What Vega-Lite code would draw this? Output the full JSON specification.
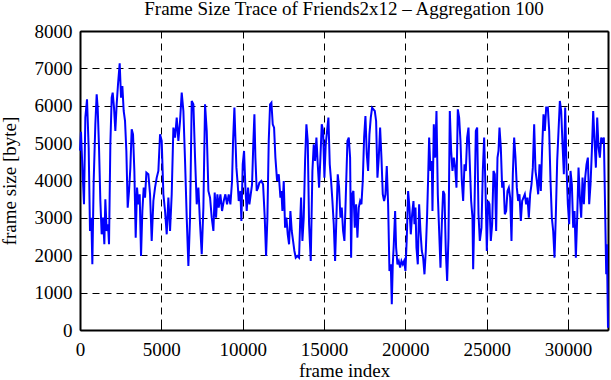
{
  "$schema": "https://vega.github.io/schema/vega-lite/v6.json",
  "width": 528,
  "height": 299,
  "autosize": {"type": "none"},
  "padding": {"left": 80, "top": 31, "right": 3, "bottom": 50},
  "background": "white",
  "title": {"text": "Frame Size Trace of Friends2x12 – Aggregation 100", "font": "Liberation Serif", "fontSize": 19, "fontWeight": "normal", "color": "#000000", "anchor": "middle", "offset": 3},
  "config": {"view": {"stroke": null}},
  "data": {"values": [
    {"f":0,"s":4800},{"f":60,"s":5300},{"f":164,"s":4166},{"f":246,"s":3363},{"f":328,"s":5682},{"f":431,"s":6173},{"f":533,"s":4880},{"f":615,"s":2649},{"f":697,"s":3006},{"f":759,"s":1757},{"f":841,"s":3988},{"f":943,"s":5504},{"f":1025,"s":6307},{"f":1087,"s":5950},{"f":1169,"s":4880},{"f":1251,"s":3452},{"f":1333,"s":2560},{"f":1415,"s":3006},{"f":1497,"s":2293},{"f":1558,"s":3497},{"f":1640,"s":2649},{"f":1722,"s":2828},{"f":1784,"s":2293},{"f":1866,"s":4969},{"f":1948,"s":6218},{"f":2009,"s":6351},{"f":2091,"s":5950},{"f":2173,"s":5326},{"f":2255,"s":6039},{"f":2337,"s":6575},{"f":2440,"s":7137},{"f":2522,"s":6218},{"f":2604,"s":6530},{"f":2686,"s":5861},{"f":2768,"s":5593},{"f":2850,"s":4790},{"f":2932,"s":3274},{"f":3014,"s":3720},{"f":3096,"s":4344},{"f":3178,"s":5370},{"f":3260,"s":5236},{"f":3342,"s":4255},{"f":3424,"s":2471},{"f":3506,"s":3809},{"f":3588,"s":3363},{"f":3670,"s":3631},{"f":3752,"s":1980},{"f":3834,"s":3185},{"f":3916,"s":3809},{"f":3998,"s":3541},{"f":4080,"s":4210},
    {"f":4203,"s":4166},{"f":4306,"s":3631},{"f":4408,"s":2382},{"f":4511,"s":3452},{"f":4613,"s":3809},{"f":4716,"s":4077},{"f":4818,"s":4255},{"f":4921,"s":5236},{"f":5023,"s":5058},{"f":5126,"s":3631},{"f":5228,"s":3185},{"f":5331,"s":2560},{"f":5433,"s":3541},{"f":5536,"s":2649},{"f":5638,"s":3631},{"f":5741,"s":5415},{"f":5843,"s":5147},{"f":5946,"s":5682},{"f":6048,"s":5058},{"f":6151,"s":5593},{"f":6253,"s":6351},{"f":6356,"s":5861},{"f":6458,"s":4523},{"f":6561,"s":3006},{"f":6663,"s":1713},{"f":6766,"s":3006},{"f":6868,"s":6128},{"f":6971,"s":6039},{"f":7073,"s":4612},{"f":7176,"s":3363},{"f":7278,"s":3809},{"f":7381,"s":2828},{"f":7483,"s":2025},{"f":7586,"s":3274},{"f":7688,"s":6039},{"f":7791,"s":5326},{"f":7893,"s":3720},{"f":7996,"s":3541},{"f":8098,"s":3006},{"f":8201,"s":2649},
    {"f":8282,"s":3675},{"f":8364,"s":3006},{"f":8446,"s":3631},{"f":8528,"s":3274},{"f":8631,"s":3631},{"f":8733,"s":3185},{"f":8836,"s":3452},{"f":8938,"s":3631},{"f":9041,"s":3363},{"f":9143,"s":3631},{"f":9246,"s":3363},{"f":9348,"s":3988},{"f":9410,"s":5058},{"f":9492,"s":5950},{"f":9553,"s":5147},{"f":9615,"s":4344},{"f":9697,"s":3898},{"f":9758,"s":3452},{"f":9861,"s":3720},{"f":9922,"s":2917},{"f":10004,"s":4434},{"f":10086,"s":4790},{"f":10168,"s":3809},{"f":10250,"s":3185},{"f":10332,"s":3809},{"f":10414,"s":3363},{"f":10496,"s":3631},{"f":10578,"s":3898},{"f":10660,"s":5058},{"f":10722,"s":5772},{"f":10783,"s":4612},{"f":10865,"s":3720},{"f":10947,"s":3809},{"f":11029,"s":3943},{"f":11152,"s":3988},{"f":11255,"s":3898},{"f":11357,"s":3006},{"f":11439,"s":1980},{"f":11521,"s":3006},{"f":11603,"s":5058},{"f":11685,"s":6039},{"f":11767,"s":6084},{"f":11849,"s":5504},{"f":11931,"s":5415},{"f":12013,"s":4612},{"f":12116,"s":3988},{"f":12218,"s":4166},{"f":12321,"s":3541},
    {"f":12382,"s":3720},{"f":12443,"s":3185},{"f":12525,"s":3988},{"f":12607,"s":2739},{"f":12689,"s":3006},{"f":12771,"s":2560},{"f":12853,"s":2293},{"f":12935,"s":3185},{"f":13017,"s":2649},{"f":13099,"s":2382},{"f":13181,"s":2114},{"f":13263,"s":1936},{"f":13366,"s":1980},{"f":13468,"s":1936},{"f":13530,"s":2828},{"f":13591,"s":3541},{"f":13673,"s":2382},{"f":13755,"s":3006},{"f":13837,"s":4523},{"f":13919,"s":5504},{"f":14001,"s":5058},{"f":14083,"s":2828},{"f":14186,"s":1847},{"f":14288,"s":4255},{"f":14370,"s":4969},{"f":14452,"s":4523},{"f":14534,"s":5147},{"f":14616,"s":4434},{"f":14698,"s":3809},{"f":14780,"s":4612},{"f":14862,"s":5504},{"f":14944,"s":5326},{"f":15026,"s":4077},{"f":15108,"s":4969},{"f":15190,"s":5326},{"f":15272,"s":5682},{"f":15354,"s":4434},{"f":15436,"s":3988},{"f":15518,"s":3452},{"f":15600,"s":2828},{"f":15682,"s":1847},{"f":15764,"s":3006},{"f":15846,"s":4166},{"f":15928,"s":3809},{"f":16010,"s":3006},{"f":16092,"s":3274},{"f":16174,"s":2649},{"f":16256,"s":2382},{"f":16338,"s":3541},{"f":16441,"s":5058},
    {"f":16523,"s":5147},{"f":16605,"s":4612},{"f":16667,"s":1936},{"f":16728,"s":3631},{"f":16810,"s":3720},{"f":16892,"s":2739},{"f":16974,"s":3363},{"f":17056,"s":2471},{"f":17138,"s":3274},{"f":17220,"s":3452},{"f":17302,"s":3363},{"f":17384,"s":3988},{"f":17466,"s":5147},{"f":17548,"s":5727},{"f":17630,"s":4701},{"f":17712,"s":4255},{"f":17794,"s":5236},{"f":17876,"s":5682},{"f":17958,"s":5950},{"f":18040,"s":5905},{"f":18122,"s":5861},{"f":18204,"s":5593},{"f":18286,"s":4077},{"f":18368,"s":4612},{"f":18450,"s":5415},{"f":18532,"s":4612},{"f":18614,"s":3631},{"f":18696,"s":3452},{"f":18778,"s":3631},{"f":18860,"s":4389},{"f":18942,"s":3363},{"f":19024,"s":1579},{"f":19106,"s":1757},{"f":19168,"s":687},{"f":19229,"s":1757},{"f":19291,"s":2293},{"f":19373,"s":3185},{"f":19434,"s":2203},{"f":19516,"s":1757},{"f":19598,"s":1847},{"f":19680,"s":1668},{"f":19762,"s":1847},{"f":19844,"s":1757},{"f":19926,"s":1847},{"f":20008,"s":1579},{"f":20090,"s":2471},{"f":20172,"s":3720},{"f":20254,"s":3274},{"f":20336,"s":2560},{"f":20418,"s":3095},{"f":20500,"s":3452},
    {"f":20562,"s":2828},{"f":20624,"s":3274},{"f":20685,"s":2203},{"f":20767,"s":1757},{"f":20849,"s":3363},{"f":20931,"s":2649},{"f":21013,"s":2114},{"f":21095,"s":1936},{"f":21177,"s":1490},{"f":21259,"s":2114},{"f":21341,"s":3095},{"f":21403,"s":4077},{"f":21464,"s":5147},{"f":21546,"s":4255},{"f":21628,"s":4523},{"f":21669,"s":3185},{"f":21751,"s":5504},{"f":21833,"s":4612},{"f":21915,"s":5861},{"f":21997,"s":3631},{"f":22079,"s":2649},{"f":22161,"s":1668},{"f":22243,"s":2828},{"f":22325,"s":3720},{"f":22407,"s":3631},{"f":22489,"s":2114},{"f":22571,"s":1311},{"f":22653,"s":2471},{"f":22735,"s":5861},{"f":22817,"s":4790},{"f":22899,"s":4255},{"f":22981,"s":4612},{"f":23063,"s":4344},{"f":23145,"s":3809},{"f":23227,"s":5905},{"f":23309,"s":5682},{"f":23391,"s":5058},{"f":23473,"s":3988},{"f":23555,"s":3452},{"f":23637,"s":4434},{"f":23719,"s":4255},{"f":23801,"s":5147},{"f":23883,"s":5415},{"f":23965,"s":4434},{"f":24047,"s":3452},{"f":24129,"s":3006},{"f":24170,"s":1624},{"f":24252,"s":3274},{"f":24334,"s":5326},{"f":24416,"s":5415},{"f":24498,"s":3095},{"f":24580,"s":2382},
    {"f":24682,"s":2739},{"f":24764,"s":4255},{"f":24846,"s":5147},{"f":24928,"s":3809},{"f":25010,"s":2114},{"f":25092,"s":3452},{"f":25174,"s":3363},{"f":25256,"s":2382},{"f":25338,"s":2828},{"f":25420,"s":4255},{"f":25502,"s":4166},{"f":25584,"s":2649},{"f":25666,"s":4612},{"f":25728,"s":4790},{"f":25789,"s":5415},{"f":25871,"s":4880},{"f":25953,"s":3809},{"f":26035,"s":3988},{"f":26117,"s":3095},{"f":26199,"s":3185},{"f":26281,"s":3720},{"f":26363,"s":3809},{"f":26445,"s":3541},{"f":26527,"s":2382},{"f":26609,"s":4166},{"f":26691,"s":5147},{"f":26773,"s":4612},{"f":26855,"s":3809},{"f":26937,"s":3452},{"f":27019,"s":3631},{"f":27101,"s":2917},{"f":27183,"s":3452},{"f":27265,"s":3541},{"f":27347,"s":3631},{"f":27429,"s":3363},{"f":27511,"s":3541},{"f":27593,"s":3006},{"f":27675,"s":3631},{"f":27757,"s":3898},{"f":27839,"s":4344},{"f":27921,"s":5504},{"f":28003,"s":4255},{"f":28085,"s":3988},{"f":28167,"s":3631},{"f":28249,"s":4434},{"f":28331,"s":3720},{"f":28413,"s":4880},{"f":28495,"s":5772},{"f":28577,"s":5326},{"f":28659,"s":5950},
    {"f":28762,"s":5950},{"f":28844,"s":5326},{"f":28926,"s":3988},{"f":29008,"s":3006},{"f":29090,"s":2649},{"f":29172,"s":1936},{"f":29254,"s":3095},{"f":29336,"s":4523},{"f":29418,"s":5326},{"f":29500,"s":6128},{"f":29582,"s":5861},{"f":29664,"s":4969},{"f":29746,"s":4166},{"f":29828,"s":5950},{"f":29910,"s":4344},{"f":29992,"s":3363},{"f":30074,"s":2828},{"f":30156,"s":4255},{"f":30238,"s":3898},{"f":30320,"s":2739},{"f":30402,"s":3185},{"f":30484,"s":1936},{"f":30566,"s":3006},{"f":30648,"s":4344},{"f":30730,"s":3541},{"f":30812,"s":3006},{"f":30894,"s":4077},{"f":30976,"s":3363},{"f":31058,"s":4077},{"f":31140,"s":4434},{"f":31222,"s":4612},{"f":31304,"s":3363},{"f":31386,"s":3898},{"f":31468,"s":4790},{"f":31550,"s":5861},{"f":31632,"s":5058},{"f":31714,"s":4344},{"f":31796,"s":5682},{"f":31878,"s":4880},{"f":31960,"s":4612},{"f":32042,"s":5147},{"f":32124,"s":5058},{"f":32206,"s":5147},{"f":32288,"s":3095},{"f":32350,"s":1490},{"f":32391,"s":2293},{"f":32460,"s":62}
  ]},
  "layer": [
    {
      "mark": {"type": "line", "color": "#0000ff", "strokeWidth": 2},
      "encoding": {
        "x": {"field": "f", "type": "quantitative",
          "scale": {"domain": [0, 32460], "nice": false, "zero": false},
          "axis": {"orient": "bottom", "title": "frame index", "values": [0, 5000, 10000, 15000, 20000, 25000, 30000], "format": "d",
            "grid": true, "gridDash": [7, 5], "gridColor": "#000000", "gridWidth": 1, "gridOpacity": 1,
            "tickSize": -6, "tickColor": "#000000", "tickWidth": 1,
            "domain": true, "domainColor": "#000000", "domainWidth": 2,
            "labelFont": "Liberation Serif", "labelFontSize": 19, "labelColor": "#000000", "labelPadding": 16, "labelFlush": false, "labelOverlap": false,
            "titleFont": "Liberation Serif", "titleFontSize": 19, "titleFontWeight": "normal", "titleColor": "#000000", "titleBaseline": "middle", "titleAlign": "center", "titleX": 264, "titleY": 40}},
        "y": {"field": "s", "type": "quantitative",
          "scale": {"domain": [0, 8000], "nice": false},
          "axis": {"orient": "left", "title": "frame size [byte]", "values": [0, 1000, 2000, 3000, 4000, 5000, 6000, 7000, 8000], "format": "d",
            "grid": true, "gridDash": [7, 5], "gridColor": "#000000", "gridWidth": 1, "gridOpacity": 1,
            "tickSize": -6, "tickColor": "#000000", "tickWidth": 1,
            "domain": true, "domainColor": "#000000", "domainWidth": 2,
            "labelFont": "Liberation Serif", "labelFontSize": 19, "labelColor": "#000000", "labelPadding": 14, "labelOverlap": false, "labelFlush": false,
            "titleFont": "Liberation Serif", "titleFontSize": 19, "titleFontWeight": "normal", "titleColor": "#000000", "titleAngle": -90, "titleBaseline": "middle", "titleAlign": "center", "titleX": -71, "titleY": 149.5}}
      }
    },
    {
      "mark": {"type": "line", "opacity": 0},
      "encoding": {
        "x": {"field": "f", "type": "quantitative",
          "scale": {"domain": [0, 32460], "nice": false, "zero": false},
          "axis": {"orient": "top", "title": null, "labels": false, "grid": false, "values": [0, 5000, 10000, 15000, 20000, 25000, 30000],
            "tickSize": -6, "tickColor": "#000000", "tickWidth": 1, "domain": true, "domainColor": "#000000", "domainWidth": 2}},
        "y": {"field": "s", "type": "quantitative",
          "scale": {"domain": [0, 8000], "nice": false},
          "axis": {"orient": "right", "title": null, "labels": false, "grid": false, "values": [0, 1000, 2000, 3000, 4000, 5000, 6000, 7000, 8000],
            "tickSize": -6, "tickColor": "#000000", "tickWidth": 1, "domain": true, "domainColor": "#000000", "domainWidth": 2}}
      }
    }
  ],
  "resolve": {"axis": {"x": "independent", "y": "independent"}}
}
